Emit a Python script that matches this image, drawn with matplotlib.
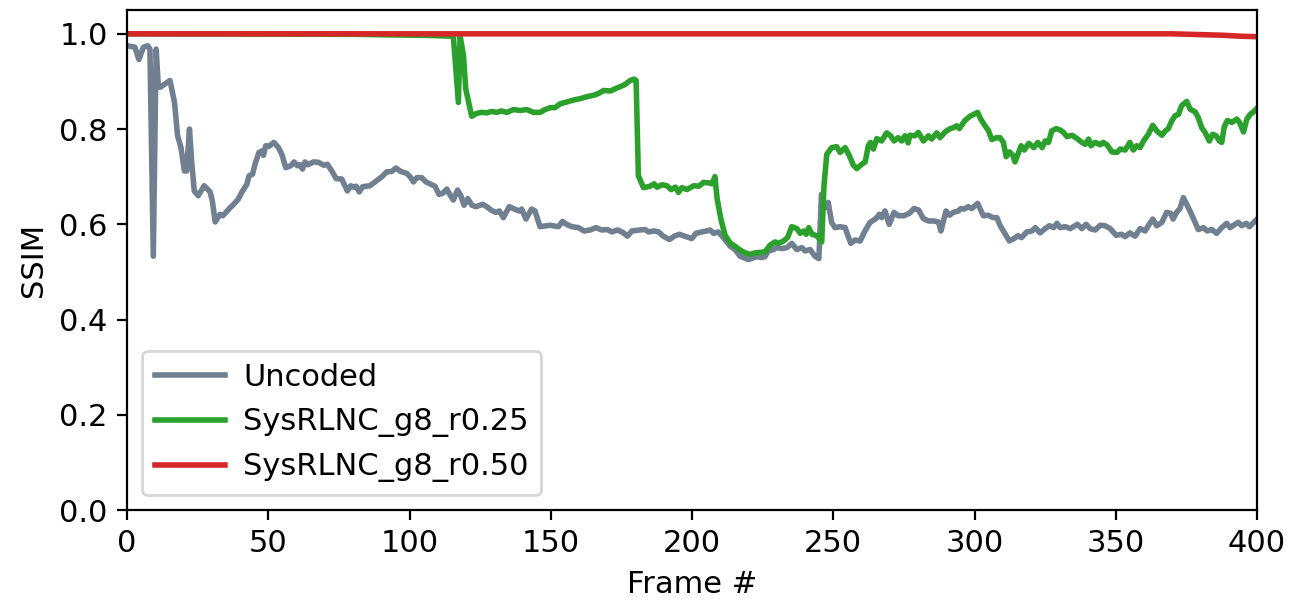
import matplotlib.pyplot as plt

# frame numbers / SSIM
uncoded_frames = [0, 2.8, 4.2, 5.8, 7.3, 8.1, 9.3, 10.3, 11.1, 11.8, 15.2, 16.8, 17.9, 19.1, 20.3, 21.1,
                  22.1, 22.9, 23.8, 25.2, 27.3, 29.4, 30.2, 31.2, 32.9, 33.9, 35.0, 36.5, 37.6, 39.4,
                  40.6, 42.4, 43.2, 44.4, 45.5, 46.7, 47.7, 48.3, 49.1, 50.3, 52.0, 53.6, 54.8, 56.2,
                  58.0, 59.1, 60.3, 61.2, 62.1, 63.0, 64.0, 66.0, 67.8, 69.7, 70.9, 72.5, 74.0, 76.0,
                  78.0, 79.2, 80.2, 81.1, 82.2, 83.4, 86.0, 87.8, 90.2, 91.9, 93.7, 95.2, 96.9, 99.0,
                  100.2, 101.4, 102.6, 104.3, 105.8, 107.6, 109.0, 110.4, 111.7, 113.2, 114.4, 115.5,
                  117.0, 118.1, 119.3, 120.6, 122.1, 123.5, 125.9, 127.3, 129.1, 130.6, 131.8, 133.2,
                  135.3, 137.1, 138.8, 139.7, 141.2, 143.2, 144.4, 146.2, 149.7, 152.7, 154.1, 155.6,
                  157.4, 159.8, 161.8, 163.9, 166.0, 168.0, 170.0, 171.6, 173.6, 175.5, 177.1, 178.7,
                  181.4, 183.4, 184.6, 186.6, 188.2, 189.8, 192.0, 193.7, 195.5, 197.5, 199.9, 201.4,
                  203.4, 205.2, 206.4, 207.6, 209.3, 211.1, 213.5, 215.2, 217.0, 219.9, 222.9, 224.6,
                  225.8, 227.0, 228.8, 230.0, 231.8, 233.6, 235.3, 237.1, 238.9, 240.0, 241.8, 243.5,
                  244.9, 245.8, 247.0, 248.2, 249.4, 250.6, 252.4, 254.2, 255.0, 256.2, 257.7, 259.5,
                  261.2, 263.0, 265.1, 266.3, 267.1, 268.3, 269.8, 271.5, 273.0, 275.0, 276.9, 278.6,
                  280.2, 281.9, 283.7, 285.5, 287.2, 288.1, 289.9, 291.1, 292.5, 294.3, 295.1, 296.3,
                  297.8, 299.0, 301.1, 303.1, 304.9, 306.5, 307.9, 309.0, 310.2, 312.3, 313.7, 315.4,
                  316.6, 318.5, 320.3, 321.5, 323.2, 325.0, 326.5, 328.0, 329.2, 330.3, 332.1, 333.9,
                  336.4, 338.0, 339.5, 340.9, 342.7, 344.5, 346.2, 348.0, 350.1, 352.1, 353.3, 355.0,
                  356.8, 358.6, 360.4, 361.5, 363.1, 364.5, 366.3, 368.0, 369.4, 370.3, 371.5, 372.7,
                  373.9, 375.1, 376.8, 379.2, 381.0, 382.4, 384.0, 385.7, 387.5, 389.3, 390.5, 392.2,
                  393.4, 394.6, 396.2, 397.3, 398.5, 400]
uncoded_ssim = [0.975, 0.972, 0.946, 0.972, 0.975, 0.968, 0.533, 0.968, 0.888, 0.888, 0.902, 0.856, 0.786,
                0.761, 0.712, 0.712, 0.800, 0.730, 0.670, 0.660, 0.681, 0.668, 0.649, 0.605, 0.621,
                0.618, 0.625, 0.635, 0.641, 0.653, 0.667, 0.684, 0.702, 0.705, 0.730, 0.751, 0.754,
                0.745, 0.765, 0.764, 0.772, 0.761, 0.747, 0.719, 0.723, 0.731, 0.723, 0.725, 0.716,
                0.731, 0.725, 0.731, 0.730, 0.724, 0.726, 0.712, 0.696, 0.695, 0.670, 0.681, 0.678,
                0.680, 0.668, 0.679, 0.681, 0.689, 0.700, 0.710, 0.711, 0.718, 0.711, 0.707, 0.700,
                0.689, 0.698, 0.698, 0.689, 0.684, 0.680, 0.663, 0.665, 0.674, 0.661, 0.651, 0.672,
                0.661, 0.640, 0.654, 0.640, 0.637, 0.642, 0.637, 0.629, 0.625, 0.628, 0.614, 0.637,
                0.632, 0.628, 0.632, 0.611, 0.632, 0.628, 0.595, 0.598, 0.595, 0.606, 0.600, 0.595,
                0.593, 0.586, 0.588, 0.593, 0.588, 0.589, 0.584, 0.588, 0.583, 0.575, 0.586, 0.588,
                0.589, 0.584, 0.586, 0.584, 0.575, 0.568, 0.575, 0.579, 0.575, 0.570, 0.581, 0.584,
                0.586, 0.588, 0.581, 0.584, 0.572, 0.554, 0.547, 0.533, 0.526, 0.532, 0.530, 0.532,
                0.544, 0.547, 0.551, 0.549, 0.551, 0.560, 0.547, 0.551, 0.544, 0.547, 0.533, 0.528,
                0.663, 0.635, 0.646, 0.604, 0.593, 0.595, 0.593, 0.579, 0.560, 0.567, 0.565, 0.586,
                0.604, 0.612, 0.621, 0.614, 0.628, 0.600, 0.625, 0.618, 0.618, 0.623, 0.633, 0.630,
                0.612, 0.607, 0.607, 0.605, 0.586, 0.628, 0.619, 0.625, 0.628, 0.633, 0.632, 0.637,
                0.633, 0.644, 0.618, 0.619, 0.614, 0.614, 0.598, 0.586, 0.565, 0.569, 0.576, 0.572,
                0.584, 0.586, 0.593, 0.582, 0.591, 0.597, 0.593, 0.602, 0.593, 0.595, 0.591, 0.600,
                0.591, 0.600, 0.591, 0.588, 0.598, 0.597, 0.591, 0.577, 0.579, 0.574, 0.582, 0.575,
                0.591, 0.586, 0.597, 0.611, 0.597, 0.604, 0.625, 0.623, 0.611, 0.625, 0.633, 0.656,
                0.642, 0.621, 0.589, 0.593, 0.586, 0.589, 0.581, 0.593, 0.602, 0.593, 0.600, 0.604,
                0.597, 0.602, 0.595, 0.602, 0.611]

g025_frames = [0, 80, 100, 107.3, 115.5, 117.3, 117.9, 119.1, 119.9, 122.0, 123.8, 125.5, 127.3, 129.1,
               130.8, 132.6, 134.4, 136.8, 139.1, 141.5, 143.9, 146.2, 148.0, 149.8, 151.5, 153.3,
               155.7, 158.1, 160.5, 162.8, 165.2, 167.0, 168.7, 171.1, 172.9, 174.6, 176.4, 178.1,
               179.5, 180.2, 181.0, 182.8, 185.2, 186.6, 187.6, 189.4, 191.1, 192.6, 194.1, 195.2,
               196.4, 198.2, 200.6, 202.4, 204.1, 205.9, 207.1, 208.1, 208.9, 210.2, 211.7, 213.5,
               215.2, 217.0, 218.8, 220.5, 222.3, 224.1, 225.8, 227.6, 229.4, 230.6, 232.4, 233.8,
               235.3, 237.1, 238.3, 239.5, 240.4, 241.3, 242.5, 244.2, 245.9, 246.7, 247.7, 249.4,
               251.2, 252.4, 254.2, 255.7, 257.1, 258.3, 260.1, 261.3, 262.4, 263.2, 264.2, 265.4,
               267.1, 268.9, 270.3, 271.5, 273.0, 274.2, 275.4, 276.5, 277.1, 278.9, 280.1, 281.9,
               283.7, 284.8, 286.6, 287.8, 289.6, 291.1, 292.5, 293.7, 294.6, 296.6, 298.4, 301.1,
               302.2, 303.7, 304.9, 306.1, 307.9, 309.0, 310.2, 311.2, 312.4, 313.6, 314.3, 315.6,
               316.5, 317.6, 319.2, 321.0, 322.4, 323.9, 325.0, 326.2, 327.3, 328.9, 330.3, 331.5,
               332.7, 334.5, 336.3, 338.0, 339.2, 340.4, 341.2, 342.7, 344.5, 345.5, 346.9, 348.6,
               350.4, 351.6, 353.3, 355.0, 356.2, 357.4, 358.6, 359.8, 361.5, 363.1, 364.5, 366.3,
               367.5, 368.6, 369.8, 371.0, 372.2, 373.3, 375.1, 376.3, 378.1, 379.2, 380.4, 381.6,
               383.1, 384.3, 385.5, 386.7, 387.5, 388.4, 389.5, 391.1, 392.8, 393.8, 395.2, 396.4,
               397.6, 398.5, 400]
g025_ssim = [1.0, 0.999, 0.997, 0.9965, 0.995, 0.856, 0.996, 0.954, 0.884, 0.827, 0.833, 0.835, 0.834,
             0.837, 0.835, 0.838, 0.835, 0.841, 0.839, 0.841, 0.835, 0.835, 0.841, 0.845, 0.845,
             0.853, 0.857, 0.861, 0.864, 0.868, 0.871, 0.875, 0.881, 0.880, 0.885, 0.889, 0.894,
             0.902, 0.905, 0.902, 0.702, 0.677, 0.680, 0.685, 0.678, 0.683, 0.681, 0.673, 0.678,
             0.667, 0.677, 0.673, 0.681, 0.680, 0.688, 0.687, 0.685, 0.700, 0.653, 0.611, 0.577,
             0.561, 0.554, 0.546, 0.540, 0.537, 0.540, 0.541, 0.542, 0.556, 0.563, 0.560, 0.565,
             0.572, 0.595, 0.591, 0.581, 0.586, 0.579, 0.593, 0.579, 0.576, 0.563, 0.681, 0.747,
             0.761, 0.763, 0.751, 0.761, 0.744, 0.724, 0.717, 0.726, 0.731, 0.765, 0.772, 0.758,
             0.780, 0.775, 0.792, 0.786, 0.775, 0.782, 0.775, 0.786, 0.771, 0.787, 0.786, 0.793,
             0.775, 0.786, 0.779, 0.792, 0.782, 0.794, 0.800, 0.803, 0.807, 0.801, 0.818, 0.827,
             0.835, 0.821, 0.807, 0.797, 0.778, 0.782, 0.782, 0.772, 0.742, 0.752, 0.744, 0.731,
             0.751, 0.765, 0.756, 0.770, 0.761, 0.772, 0.761, 0.775, 0.772, 0.796, 0.801, 0.798,
             0.793, 0.784, 0.787, 0.780, 0.772, 0.768, 0.779, 0.765, 0.772, 0.767, 0.772, 0.767,
             0.752, 0.751, 0.758, 0.756, 0.772, 0.756, 0.765, 0.761, 0.775, 0.789, 0.808, 0.796,
             0.787, 0.796, 0.801, 0.817, 0.828, 0.831, 0.849, 0.858, 0.842, 0.836, 0.824, 0.803,
             0.793, 0.775, 0.789, 0.786, 0.775, 0.772, 0.805, 0.818, 0.814, 0.821, 0.814, 0.794,
             0.821, 0.831, 0.835, 0.844]

g050_frames = [0, 370, 376, 382, 388, 394, 400]
g050_ssim = [1.0, 1.0, 0.999, 0.998, 0.997, 0.995, 0.994]


def plotDraw():
    plt.rcParams["font.size"] = 11
    fig = plt.figure(figsize=(6.455, 3.0), dpi=200)
    ax = fig.add_axes([0.0984, 0.15, 0.8753, 0.8333])
    ax.plot(uncoded_frames, uncoded_ssim, color="slategray", lw=2, label="Uncoded")
    ax.plot(g025_frames, g025_ssim, color="tab:green", lw=2, label="SysRLNC_g8_r0.25")
    ax.plot(g050_frames, g050_ssim, color="tab:red", lw=2, label="SysRLNC_g8_r0.50")
    ax.set_xlim(0, 400)
    ax.set_ylim(0, 1.05)
    ax.set_xlabel("Frame #")
    ax.set_ylabel("SSIM")
    ax.legend(loc="lower left", handlelength=2.3, handletextpad=0.6)
    fig.savefig("out.png", dpi=200)


if __name__ == "__main__":
    plotDraw()
